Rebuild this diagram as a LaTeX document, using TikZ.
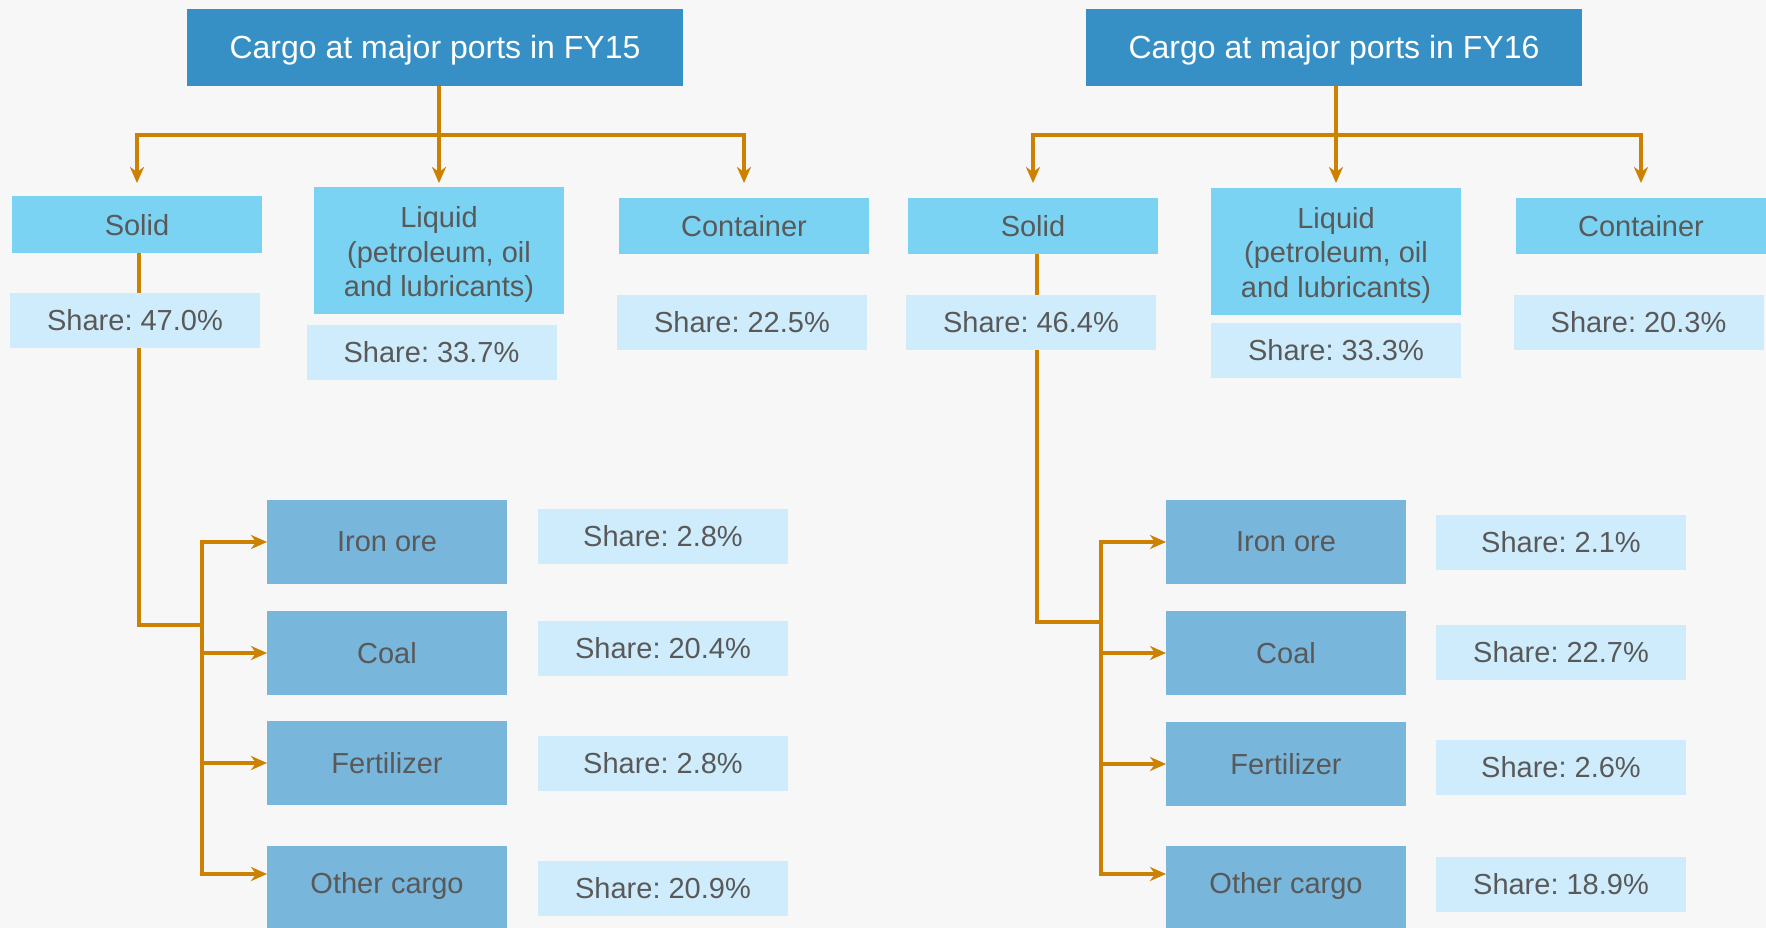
\documentclass[tikz,border=0pt]{standalone}
\usepackage{fontspec}
\setmainfont{Liberation Sans}
\usetikzlibrary{arrows.meta}
\definecolor{bgc}{HTML}{F7F7F7}
\definecolor{titleblue}{HTML}{368FC5}
\definecolor{catblue}{HTML}{7AD3F3}
\definecolor{sharebg}{HTML}{CFECFD}
\definecolor{subblue}{HTML}{78B6DB}
\definecolor{lineorange}{HTML}{CC8100}
\definecolor{txt}{HTML}{595959}
\pgfdeclarelayer{back}
\pgfdeclarelayer{bg}
\pgfsetlayers{back,bg,main}
\frenchspacing
\newcommand\mylift[2]{\raisebox{#1}[\height][\depth]{#2}}
\begin{document}
\begin{tikzpicture}[x=1pt,y=-1pt,
  every node/.style={inner sep=0pt, outer sep=0pt, align=center},
  titlebox/.style={fill=titleblue, text=white, font=\fontsize{32}{38}\selectfont, minimum width=496pt, minimum height=77pt},
  catbox/.style={fill=catblue, text=txt, font=\fontsize{29}{35}\selectfont, minimum width=250pt, minimum height=56pt},
  sharebox/.style={fill=sharebg, text=txt, font=\fontsize{29}{35}\selectfont, minimum width=250pt, minimum height=55pt},
  subbox/.style={fill=subblue, text=txt, font=\fontsize{29}{35}\selectfont, minimum width=240pt, minimum height=84pt},
  conn/.style={draw=lineorange, line width=3.5pt},
  arr/.style={conn, -{Stealth[length=16pt,width=14pt,inset=5pt]}},
]
\useasboundingbox (0,0) rectangle (1766,928);
\begin{pgfonlayer}{back}
  \fill[bgc] (0,0) rectangle (1766,928);
\end{pgfonlayer}

% ---------------- FY15 ----------------
\node[titlebox] (t15) at (435,47.5) {\mylift{-2.5pt}{Cargo at major ports in FY15}};
\node[catbox] (s15) at (137,224.5) {\mylift{-1pt}{Solid}};
\node[catbox, minimum height=127pt] (l15) at (439,250.5) {\mylift{-4.5pt}{\begin{tabular}{@{}c@{}}Liquid\\(petroleum, oil\\and lubricants)\end{tabular}}};
\node[catbox] (c15) at (744,226) {Container};
\node[sharebox] (sh15s) at (135,320.5) {Share: 47.0\%};
\node[sharebox] (sh15l) at (431.5,352.5) {Share: 33.7\%};
\node[sharebox] (sh15c) at (742,322) {Share: 22.5\%};
\node[subbox] (io15) at (387,542) {Iron ore};
\node[subbox] (co15) at (387,653) {Coal};
\node[subbox] (fe15) at (387,763) {Fertilizer};
\node[subbox] (oc15) at (387,888) {\mylift{2pt}{Other cargo}};
\node[sharebox] (sh15a) at (663,536.5) {Share: 2.8\%};
\node[sharebox] (sh15b) at (663,648) {Share: 20.4\%};
\node[sharebox] (sh15d) at (663,763) {Share: 2.8\%};
\node[sharebox] (sh15e) at (663,888.5) {Share: 20.9\%};

% ---------------- FY16 ----------------
\node[titlebox] (t16) at (1334,47.5) {\mylift{-2.5pt}{Cargo at major ports in FY16}};
\node[catbox] (s16) at (1033,226) {Solid};
\node[catbox, minimum height=127pt] (l16) at (1336,251.5) {\mylift{-4.5pt}{\begin{tabular}{@{}c@{}}Liquid\\(petroleum, oil\\and lubricants)\end{tabular}}};
\node[catbox] (c16) at (1641,226) {Container};
\node[sharebox] (sh16s) at (1031,322) {Share: 46.4\%};
\node[sharebox] (sh16l) at (1336,350.5) {Share: 33.3\%};
\node[sharebox] (sh16c) at (1638.5,322) {Share: 20.3\%};
\node[subbox] (io16) at (1286,542) {Iron ore};
\node[subbox] (co16) at (1286,653) {Coal};
\node[subbox] (fe16) at (1286,764) {Fertilizer};
\node[subbox] (oc16) at (1286,888) {\mylift{2pt}{Other cargo}};
\node[sharebox] (sh16a) at (1561,542) {Share: 2.1\%};
\node[sharebox] (sh16b) at (1561,652.5) {Share: 22.7\%};
\node[sharebox] (sh16d) at (1561,767) {Share: 2.6\%};
\node[sharebox] (sh16e) at (1561,884) {Share: 18.9\%};

% ---------------- connectors ----------------
\coordinate (h15) at (439,135);
\coordinate (j15) at (202,625);
\coordinate (h16) at (1337,135);
\coordinate (j16) at (1101,622);
\begin{pgfonlayer}{bg}
  % FY15 top
  \draw[arr] (l15.north |- t15.south) -- (l15.north |- 0,183);
  \draw[arr] (h15) -| (s15.north |- 0,183);
  \draw[arr] (h15) -| (c15.north |- 0,183);
  % FY15 solid branch
  \draw[conn] ([xshift=2pt]s15.south) |- (j15);
  \draw[arr] (j15) |- (io15.west);
  \draw[arr] (j15) |- (co15.west);
  \draw[arr] (j15) |- (fe15.west);
  \draw[arr] (j15) |- (oc15.west |- 0,874);
  % FY16 top
  \draw[arr] (l16.north |- t16.south) -- (l16.north |- 0,183);
  \draw[arr] (h16) -| (s16.north |- 0,183);
  \draw[arr] (h16) -| (c16.north |- 0,183);
  % FY16 solid branch
  \draw[conn] ([xshift=4pt]s16.south) |- (j16);
  \draw[arr] (j16) |- (io16.west);
  \draw[arr] (j16) |- (co16.west);
  \draw[arr] (j16) |- (fe16.west);
  \draw[arr] (j16) |- (oc16.west |- 0,874);
\end{pgfonlayer}
\end{tikzpicture}
\end{document}
